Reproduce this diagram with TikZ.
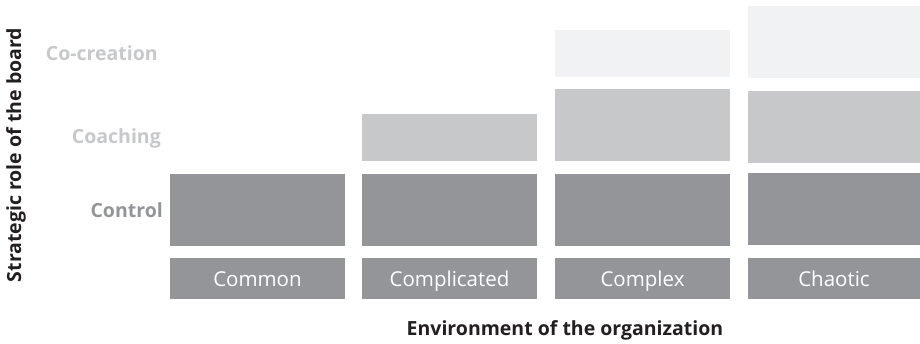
\documentclass[tikz,border=0pt]{standalone}
\usepackage{fontspec}
\setmainfont{Open Sans}
\definecolor{barDark}{HTML}{939598}
\definecolor{barMid}{HTML}{C7C8CA}
\definecolor{barLight}{HTML}{F1F2F3}
\definecolor{inkDark}{HTML}{231F20}
\begin{document}
\begin{tikzpicture}[x=1pt,y=-1pt,
  bar/.style={rectangle,inner sep=0pt,outer sep=0pt,anchor=north west},
  darkbar/.style={bar,fill=barDark},
  midbar/.style={bar,fill=barMid},
  lightbar/.style={bar,fill=barLight},
  boxlabel/.style={text=white,anchor=base,inner sep=0pt,font=\fontsize{20.5}{20.5}\selectfont},
  rolelabel/.style={anchor=base east,font=\fontsize{19.5}{19.5}\selectfont\bfseries,inner sep=0pt},
  axistitle/.style={text=inkDark,font=\fontsize{19.5}{19.5}\selectfont\bfseries,inner sep=0pt}]
\useasboundingbox (0,0) rectangle (920,343);

% environment boxes (bottom row)
\node[darkbar,minimum width=175pt,minimum height=41pt] (envA) at (170,258) {};
\node[darkbar,minimum width=175pt,minimum height=41pt] (envB) at (362,258) {};
\node[darkbar,minimum width=175pt,minimum height=41pt] (envC) at (555,258) {};
\node[darkbar,minimum width=172pt,minimum height=41pt] (envD) at (748,258) {};
\node[boxlabel] (envAtxt) at (envA.center |- 0,286) {Common};
\node[boxlabel] (envBtxt) at (envB.center |- 0,286) {Complicated};
\node[boxlabel] (envCtxt) at (envC.center |- 0,286) {Complex};
\node[boxlabel] (envDtxt) at (envD.center |- 0,286) {Chaotic};

% control level
\node[darkbar,minimum width=175pt,minimum height=72pt] (ctrlA) at (170,174) {};
\node[darkbar,minimum width=175pt,minimum height=72pt] (ctrlB) at (362,174) {};
\node[darkbar,minimum width=175pt,minimum height=72pt] (ctrlC) at (555,174) {};
\node[darkbar,minimum width=172pt,minimum height=72pt] (ctrlD) at (748,173) {};

% coaching level
\node[midbar,minimum width=175pt,minimum height=47pt] (coachB) at (362,114) {};
\node[midbar,minimum width=175pt,minimum height=72pt] (coachC) at (555,89) {};
\node[midbar,minimum width=172pt,minimum height=72pt] (coachD) at (748,91) {};

% co-creation level
\node[lightbar,minimum width=175pt,minimum height=47pt] (cocrC) at (555,30) {};
\node[lightbar,minimum width=172pt,minimum height=72pt] (cocrD) at (748,6) {};

% role labels
\node[rolelabel,text=barMid] (roleCo) at (158,60) {Co-creation};
\node[rolelabel,text=barMid] (roleCoach) at (161,143) {Coaching};
\node[rolelabel,text=barDark] (roleCtrl) at (163,217) {Control};

% axis titles
\node[axistitle,anchor=base] (xtitle) at (565,335) {Environment of the organization};
\node[axistitle,anchor=base,rotate=90] (ytitle) at (21,155) {Strategic role of the board};
\end{tikzpicture}
\end{document}
